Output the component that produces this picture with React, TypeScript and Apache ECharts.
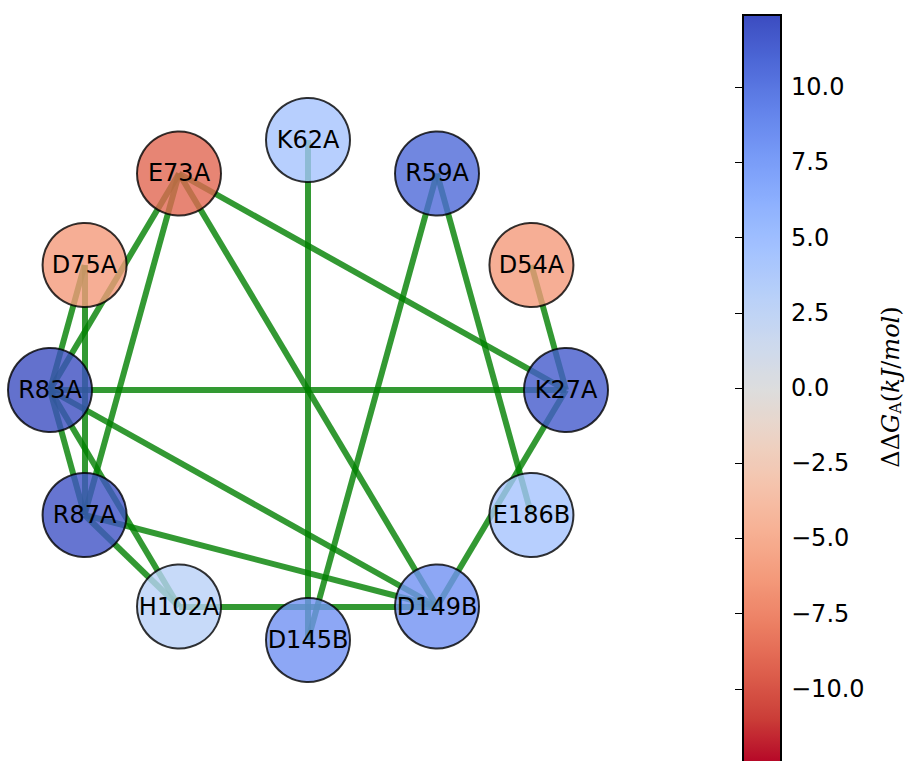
import React, { useEffect, useRef } from "react";
import * as echarts from "echarts";

// Residues in circular-layout order (networkx circular_layout, counter-clockwise from 0°)
const nodeNames = ["K27A", "D54A", "R59A", "K62A", "E73A", "D75A", "R83A", "R87A", "H102A", "D145B", "D149B", "E186B"];
const nodeValues = [11.6, -6.2, 10.8, 4.5, -9.0, -6.2, 12.3, 12.0, 3.0, 8.3, 8.3, 4.5];

const edgeSources = ["E73A", "E73A", "E73A", "E73A", "D75A", "D75A", "K62A", "R59A", "R59A", "D54A", "K27A", "K27A", "R83A", "R83A", "R83A", "R87A", "R87A", "H102A"];
const edgeTargets = ["R83A", "R87A", "K27A", "D149B", "R83A", "R87A", "D145B", "D145B", "E186B", "K27A", "R83A", "D149B", "R87A", "H102A", "D149B", "H102A", "D149B", "D149B"];

const colorbarTicks = [-10, -7.5, -5, -2.5, 0, 2.5, 5, 7.5, 10];
const colorMin = -12.4;
const colorMax = 12.4;

// coolwarm_r (low = red, high = blue)
const coolwarmStops = [
  "rgb(180,4,38)", "rgb(203,62,56)", "rgb(222,96,77)", "rgb(236,127,99)",
  "rgb(244,154,123)", "rgb(247,177,148)", "rgb(245,196,173)", "rgb(236,211,197)",
  "rgb(221,221,221)", "rgb(204,217,238)", "rgb(184,208,249)", "rgb(163,194,255)",
  "rgb(141,176,254)", "rgb(119,154,247)", "rgb(98,130,234)", "rgb(77,104,215)",
  "rgb(59,76,192)",
];

// circle layout view (pixels)
const RX = 258;
const RY = 250;
const CX = 308;
const CY = 390;

export default function App() {
  const ref = useRef<HTMLDivElement>(null);
  useEffect(() => {
    if (!ref.current) return;
    const chart = echarts.init(ref.current, undefined, { renderer: "svg" });
    const n = nodeNames.length;
    const nodes = nodeNames.map((name, i) => {
      const a = (2 * Math.PI * i) / n;
      return { name, value: nodeValues[i], x: RX * Math.cos(a), y: -RY * Math.sin(a) };
    });
    const links = edgeSources.map((s, i) => ({ source: s, target: edgeTargets[i] }));
    const fmt = (v: number) => (v < 0 ? "\u2212" + Math.abs(v).toFixed(1) : v.toFixed(1));

    chart.setOption({
      animation: false,
      grid: { left: 743, top: 15, width: 38, height: 750, containLabel: false },
      xAxis: { type: "value", show: false, min: 0, max: 1 },
      yAxis: {
        type: "value",
        position: "right",
        min: colorMin,
        max: colorMax,
        z: 10,
        axisLine: { show: false },
        splitLine: { show: false },
        axisTick: {
          show: true,
          inside: true,
          length: 8,
          customValues: colorbarTicks,
          lineStyle: { color: "#000", width: 1 },
        },
        axisLabel: {
          customValues: colorbarTicks,
          formatter: fmt,
          color: "#000",
          fontSize: 24,
          fontFamily: "DejaVu Sans",
          margin: 10,
        },
      },
      visualMap: {
        type: "continuous",
        min: colorMin,
        max: colorMax,
        seriesIndex: 0,
        calculable: false,
        hoverLink: false,
        left: 743,
        top: 15,
        padding: 0,
        itemWidth: 38,
        itemHeight: 750,
        text: null,
        inRange: { color: coolwarmStops },
      },
      graphic: [
        {
          type: "rect",
          z: 100,
          shape: { x: 743, y: 15, width: 38, height: 750 },
          style: { fill: "none", stroke: "#000", lineWidth: 2 },
          silent: true,
        },
        {
          type: "text",
          z: 100,
          x: 891,
          y: 387,
          rotation: Math.PI / 2,
          style: {
            text: "{d|ΔΔ}{g|G}{s|A}{p|(}{g|kJ}{p|/}{g|mol}{p|)}",
            align: "center",
            verticalAlign: "middle",
            fill: "#000",
            rich: {
              d: { fontFamily: "DejaVu Serif", fontSize: 24, lineHeight: 24 },
              g: { fontFamily: "DejaVu Serif", fontStyle: "italic", fontSize: 24, lineHeight: 24 },
              p: { fontFamily: "DejaVu Serif", fontSize: 24, lineHeight: 24 },
              s: { fontFamily: "DejaVu Serif", fontSize: 16, lineHeight: 15, verticalAlign: "bottom" },
            },
          },
          silent: true,
        },
      ],
      series: [
        {
          type: "graph",
          layout: "none",
          left: CX - RX,
          top: CY - RY,
          width: 2 * RX,
          height: 2 * RY,
          symbol: "circle",
          symbolSize: 84,
          silent: true,
          data: nodes,
          links,
          itemStyle: { opacity: 0.8, borderColor: "#000", borderWidth: 2 },
          lineStyle: { color: "#008000", width: 6, opacity: 0.8, curveness: 0 },
          label: {
            show: true,
            position: "inside",
            fontSize: 24,
            color: "#000",
            opacity: 1,
            fontFamily: "DejaVu Sans",
          },
          emphasis: { disabled: true },
        },
      ],
    });
    return () => chart.dispose();
  }, []);
  return (
    <div
      ref={ref}
      style={{ position: "absolute", left: 0, top: 0, width: 906, height: 761 }}
    />
  );
}
